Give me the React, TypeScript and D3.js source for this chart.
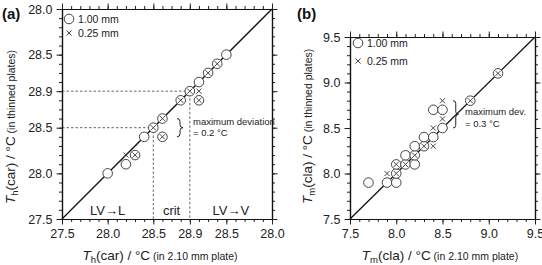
import { useRef, useEffect } from 'react';
import * as d3 from 'd3';

type Branch = 'L' | 'V';
// [x value, x branch, y value, y branch]
type CarPt = [number, Branch, number, Branch];

const W = 542;
const H = 265;
const FONT = "'Liberation Sans', Arial, Helvetica, sans-serif";

// (a) Th(car): axis folds back at the critical temperature
const carCrit = 28.9;
const carTicksL = [27.5, 28.0, 28.5, 28.9];
const carTicksV = [28.5, 28.0];
const carBounds = [28.5, 28.9];
const carRegions = ['LV→L', 'crit', 'LV→V'];

const carThick: CarPt[] = [
  [28.0, 'L', 28.0, 'L'],
  [28.2, 'L', 28.1, 'L'],
  [28.3, 'L', 28.2, 'L'],
  [28.4, 'L', 28.4, 'L'],
  [28.5, 'L', 28.5, 'L'],
  [28.6, 'L', 28.4, 'L'],
  [28.6, 'L', 28.6, 'L'],
  [28.8, 'L', 28.8, 'L'],
  [28.9, 'L', 28.9, 'L'],
  [28.8, 'V', 28.8, 'L'],
  [28.8, 'V', 28.8, 'V'],
  [28.7, 'V', 28.7, 'V'],
  [28.6, 'V', 28.6, 'V'],
  [28.5, 'V', 28.5, 'V'],
];

const carThin: CarPt[] = [
  [28.2, 'L', 28.2, 'L'],
  [28.3, 'L', 28.2, 'L'],
  [28.5, 'L', 28.5, 'L'],
  [28.6, 'L', 28.4, 'L'],
  [28.6, 'L', 28.6, 'L'],
  [28.8, 'L', 28.8, 'L'],
  [28.9, 'L', 28.9, 'L'],
  [28.8, 'V', 28.9, 'L'],
  [28.8, 'V', 28.8, 'L'],
  [28.7, 'V', 28.7, 'V'],
  [28.6, 'V', 28.6, 'V'],
];

// (b) Tm(cla)
const claTicks = [7.5, 8.0, 8.5, 9.0, 9.5];

const claThick: [number, number][] = [
  [7.7, 7.9], [7.9, 7.9], [8.0, 7.9], [8.0, 8.0], [8.0, 8.1], [8.1, 8.1],
  [8.2, 8.1], [8.1, 8.2], [8.2, 8.2], [8.2, 8.3], [8.3, 8.3], [8.3, 8.4],
  [8.4, 8.4], [8.5, 8.5], [8.4, 8.7], [8.5, 8.7], [8.8, 8.8], [9.1, 9.1],
];

const claThin: [number, number][] = [
  [7.9, 8.0], [8.0, 8.0], [8.0, 8.1], [8.1, 8.1], [8.2, 8.2], [8.3, 8.3],
  [8.4, 8.3], [8.4, 8.5], [8.5, 8.6], [8.5, 8.8], [8.8, 8.8], [9.1, 9.1],
];

const fold = (t: number, b: Branch) => (b === 'L' ? t : 2 * carCrit - t);

const fmt = d3.format('.1f');
const R = 4.8;

const bracePath = (x: number, y0: number, y1: number, w: number) => {
  const ym = (y0 + y1) / 2;
  const h = w / 2;
  return `M${x},${y0} Q${x + h},${y0} ${x + h},${y0 + h} L${x + h},${ym - h} Q${x + h},${ym} ${x + w},${ym} ` +
    `Q${x + h},${ym} ${x + h},${ym + h} L${x + h},${y1 - h} Q${x + h},${y1} ${x},${y1}`;
};

type G = d3.Selection<SVGGElement, unknown, null, undefined>;

const drawFrame = (
  g: G,
  x: d3.ScaleLinear<number, number>,
  y: d3.ScaleLinear<number, number>,
  xMajor: number[], xLabels: string[],
  yMajor: number[], yLabels: string[],
) => {
  const [x0, x1] = x.range();
  const [y0, y1] = y.range();
  const minorX = d3.range(Math.round((x.domain()[1] - x.domain()[0]) * 10) + 1).map(i => x.domain()[0] + i / 10);
  const minorY = d3.range(Math.round((y.domain()[1] - y.domain()[0]) * 10) + 1).map(i => y.domain()[0] + i / 10);
  const blank = () => '';

  const sides: [string, any][] = [
    [`translate(0,${y0})`, d3.axisBottom],
    [`translate(0,${y1})`, d3.axisTop],
    [`translate(${x0},0)`, d3.axisLeft],
    [`translate(${x1},0)`, d3.axisRight],
  ];
  sides.forEach(([tr, mk], i) => {
    const scale = i < 2 ? x : y;
    const minor = i < 2 ? minorX : minorY;
    const major = i < 2 ? xMajor : yMajor;
    const labels = i < 2 ? xLabels : yLabels;
    g.append('g').attr('transform', tr)
      .call(mk(scale).tickValues(minor).tickSize(3).tickSizeOuter(0).tickFormat(blank));
    g.append('g').attr('transform', tr)
      .call(mk(scale).tickValues(major).tickSize(5.5).tickSizeOuter(0).tickPadding(i === 0 ? 5 : 4)
        .tickFormat((_d: number, k: number) => (i === 0 || i === 2 ? labels[k] : '')));
  });

  g.selectAll('.domain').attr('stroke', '#111').attr('stroke-width', 1.2);
  g.selectAll('.tick line').attr('stroke', '#222').attr('stroke-width', 1);
  g.selectAll('.tick text').attr('fill', '#222').attr('font-family', FONT).attr('font-size', 12.5);
  g.selectAll('g').attr('font-family', FONT);
};

const drawMarks = (g: G, circles: [number, number][], crosses: [number, number][]) => {
  g.append('g').selectAll('circle').data(circles).enter().append('circle')
    .attr('cx', d => d[0]).attr('cy', d => d[1]).attr('r', R)
    .attr('fill', '#fff').attr('stroke', '#444').attr('stroke-width', 1);
  const s = 2.6;
  g.append('g').selectAll('path').data(crosses).enter().append('path')
    .attr('d', d => `M${d[0] - s},${d[1] - s}L${d[0] + s},${d[1] + s}M${d[0] - s},${d[1] + s}L${d[0] + s},${d[1] - s}`)
    .attr('stroke', '#333').attr('stroke-width', 0.9).attr('fill', 'none');
};

const drawLegend = (g: G, x: number, yA: number, yB: number) => {
  drawMarks(g, [[x, yA]], [[x, yB]]);
  g.append('text').attr('x', x + 9).attr('y', yA + 3.8).text('1.00 mm');
  g.append('text').attr('x', x + 9).attr('y', yB + 3.8).text('0.25 mm');
  g.selectAll('text').attr('font-family', FONT).attr('font-size', 10.5).attr('fill', '#222');
};

const axisTitle = (
  g: G, sym: string, sub: string, rest: string, note: string,
  x: number, y: number, rotate: boolean, anchor: string,
) => {
  const t = g.append('text')
    .attr('transform', rotate ? `translate(${x},${y}) rotate(-90)` : `translate(${x},${y})`)
    .attr('text-anchor', anchor).attr('font-family', FONT).attr('fill', '#222').attr('font-size', 13.5);
  t.append('tspan').attr('font-style', 'italic').text(sym);
  t.append('tspan').attr('font-size', 9.5).attr('dy', 3).text(sub);
  t.append('tspan').attr('dy', -3).text(rest);
  t.append('tspan').attr('font-size', 10.5).text(note);
};

const App = () => {
  const svgRef = useRef<SVGSVGElement>(null);

  useEffect(() => {
    const svg = d3.select(svgRef.current);
    svg.selectAll('*').remove();

    // ---------- panel (a)
    const a = svg.append('g') as unknown as G;
    const xa = d3.scaleLinear().domain([27.5, fold(28.0, 'V')]).range([62, 272]);
    const ya = d3.scaleLinear().domain([27.5, fold(28.0, 'V')]).range([219, 9]);
    const aMajor = [...carTicksL, ...carTicksV.map(v => fold(v, 'V'))];
    const aLabels = [...carTicksL, ...carTicksV].map(fmt);

    // critical region boundaries
    carBounds.forEach(b => {
      a.append('path')
        .attr('d', `M${xa(27.5)},${ya(b)}H${xa(b)}V${ya(27.5)}`)
        .attr('fill', 'none').attr('stroke', '#555').attr('stroke-width', 0.9)
        .attr('stroke-dasharray', '2.5,2');
    });

    a.append('line')
      .attr('x1', xa(27.5)).attr('y1', ya(27.5))
      .attr('x2', xa(fold(28.0, 'V'))).attr('y2', ya(fold(28.0, 'V')))
      .attr('stroke', '#111').attr('stroke-width', 1.3);

    drawFrame(a, xa, ya, aMajor, aLabels, aMajor, aLabels);

    const pa = (d: CarPt): [number, number] => [xa(fold(d[0], d[1])), ya(fold(d[2], d[3]))];
    drawMarks(a, carThick.map(pa), carThin.map(pa));

    const regionEdges = [27.5, ...carBounds, fold(28.0, 'V')];
    carRegions.forEach((lab, i) => {
      a.append('text')
        .attr('x', xa((regionEdges[i] + regionEdges[i + 1]) / 2)).attr('y', 214.5)
        .attr('text-anchor', 'middle').attr('font-family', FONT).attr('font-size', 13)
        .attr('fill', '#222').text(lab);
    });

    a.append('path').attr('d', bracePath(177, ya(28.6), ya(28.4), 6))
      .attr('fill', 'none').attr('stroke', '#222').attr('stroke-width', 1);
    a.append('text').attr('x', 193).attr('y', 125).text('maximum deviation');
    a.append('text').attr('x', 193).attr('y', 136).text('= 0.2 °C');
    a.selectAll('text:not(.tick text)');

    drawLegend(a.append('g') as unknown as G, 69, 19, 33);
    axisTitle(a, 'T', 'h', '(car) / °C', ' (in 2.10 mm plate)', 160, 260, false, 'middle');
    axisTitle(a, 'T', 'h', '(car) / °C', ' (in thinned plates)', 15, 204, true, 'start');
    a.append('text').attr('x', 2).attr('y', 19).attr('font-weight', 'bold')
      .attr('font-size', 15).attr('font-family', FONT).attr('fill', '#111').text('(a)');

    // ---------- panel (b)
    const b = svg.append('g') as unknown as G;
    const xb = d3.scaleLinear().domain([7.5, 9.5]).range([350, 535]);
    const yb = d3.scaleLinear().domain([7.5, 9.5]).range([219, 37]);

    b.append('line')
      .attr('x1', xb(7.5)).attr('y1', yb(7.5)).attr('x2', xb(9.5)).attr('y2', yb(9.5))
      .attr('stroke', '#111').attr('stroke-width', 1.3);

    drawFrame(b, xb, yb, claTicks, claTicks.map(fmt), claTicks, claTicks.map(fmt));
    drawMarks(
      b,
      claThick.map(d => [xb(d[0]), yb(d[1])] as [number, number]),
      claThin.map(d => [xb(d[0]), yb(d[1])] as [number, number]),
    );

    b.append('path').attr('d', bracePath(453, yb(8.8), yb(8.5), 5.5))
      .attr('fill', 'none').attr('stroke', '#222').attr('stroke-width', 1);
    b.append('text').attr('x', 465).attr('y', 115).text('maximum dev.');
    b.append('text').attr('x', 465).attr('y', 126.5).text('= 0.3 °C');

    drawLegend(b.append('g') as unknown as G, 358, 43, 61);
    axisTitle(b, 'T', 'm', '(cla) / °C', ' (in 2.10 mm plate)', 440, 260, false, 'middle');
    axisTitle(b, 'T', 'm', '(cla) / °C', ' (in thinned plates)', 312, 204, true, 'start');
    b.append('text').attr('x', 297).attr('y', 19).attr('font-weight', 'bold')
      .attr('font-size', 15).attr('font-family', FONT).attr('fill', '#111').text('(b)');

    // annotation text defaults
    svg.selectAll('text:not([font-size])')
      .attr('font-family', FONT).attr('font-size', 9.5).attr('fill', '#222');
  }, []);

  return (
    <svg
      ref={svgRef}
      width={W}
      height={H}
      style={{ position: 'absolute', left: 0, top: 0, background: '#fff' }}
    />
  );
};

export default App;
